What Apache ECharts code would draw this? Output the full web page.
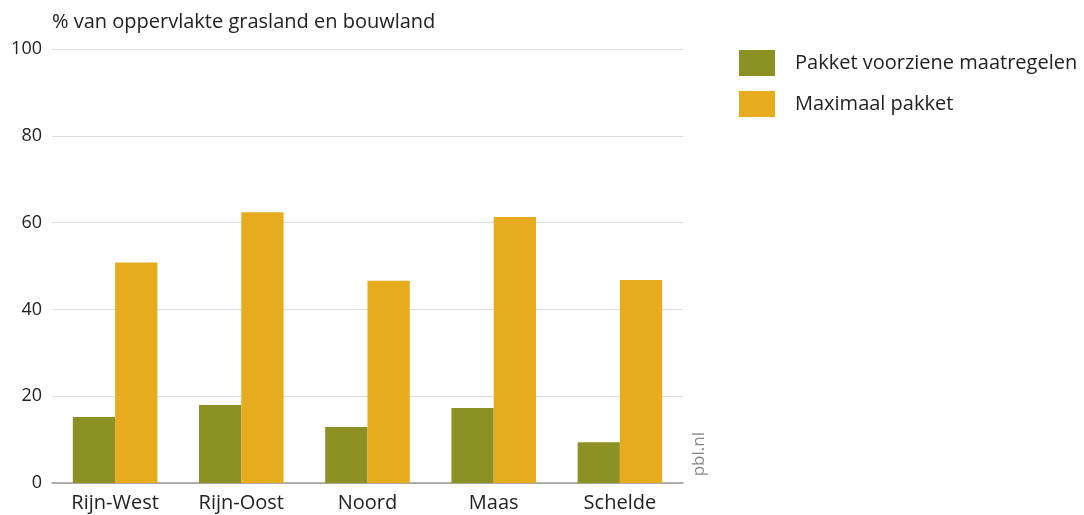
<!DOCTYPE html>
<html><head><meta charset="utf-8">
<script src="https://cdn.jsdelivr.net/npm/echarts@6/dist/echarts.min.js"></script>
<style>html,body{margin:0;padding:0;background:#fff}#c{width:1084px;height:515px}</style>
</head><body><div id="c"></div>
<script>
const categories = ['Rijn-West','Rijn-Oost','Noord','Maas','Schelde'];
const pakketVoorzien = [15.2, 18.0, 12.9, 17.3, 9.4];
const maximaalPakket = [50.8, 62.4, 46.6, 61.3, 46.8];
const yTicks = [0,20,40,60,80,100];
const font = '"Open Sans", "Noto Sans", sans-serif';
const chart = echarts.init(document.getElementById('c'));
chart.setOption({
  animation:false,
  textStyle:{fontFamily:font},
  title:{text:'% van oppervlakte grasland en bouwland',left:52,top:12,padding:0,textStyle:{fontSize:20,fontWeight:'normal',color:'#222',fontFamily:font}},
  legend:{left:739,top:50,padding:0,orient:'vertical',itemWidth:36,itemHeight:26,itemGap:15,icon:'rect',
    textStyle:{fontSize:20,color:'#222',fontFamily:font,padding:[0,0,0,15]}},
  grid:{left:52,right:401,top:49,bottom:32,containLabel:false},
  xAxis:{type:'category',data:categories,axisTick:{show:false},
    axisLine:{lineStyle:{color:'#999',width:1.5}},
    axisLabel:{fontSize:20,color:'#222',margin:10,fontFamily:font}},
  yAxis:{type:'value',min:0,max:100,interval:20,
    axisLabel:{fontSize:18,color:'#222',margin:10,fontFamily:font,
      formatter:v=>yTicks.includes(v)?String(v):''},
    splitLine:{lineStyle:{color:'#dcdcdc',width:1.2}},axisLine:{show:false},axisTick:{show:false}},
  graphic:[{type:'text',left:691,top:432,rotation:Math.PI/2,
    style:{text:'pbl.nl',fontSize:17,fill:'#888',fontFamily:font}}],
  series:[
    {name:'Pakket voorziene maatregelen',type:'bar',data:pakketVoorzien,itemStyle:{color:'#8c9124'},barGap:'0%',barCategoryGap:'33%'},
    {name:'Maximaal pakket',type:'bar',data:maximaalPakket,itemStyle:{color:'#e6ac1e'},barGap:'0%',barCategoryGap:'33%'}
  ]
});
</script></body></html>
